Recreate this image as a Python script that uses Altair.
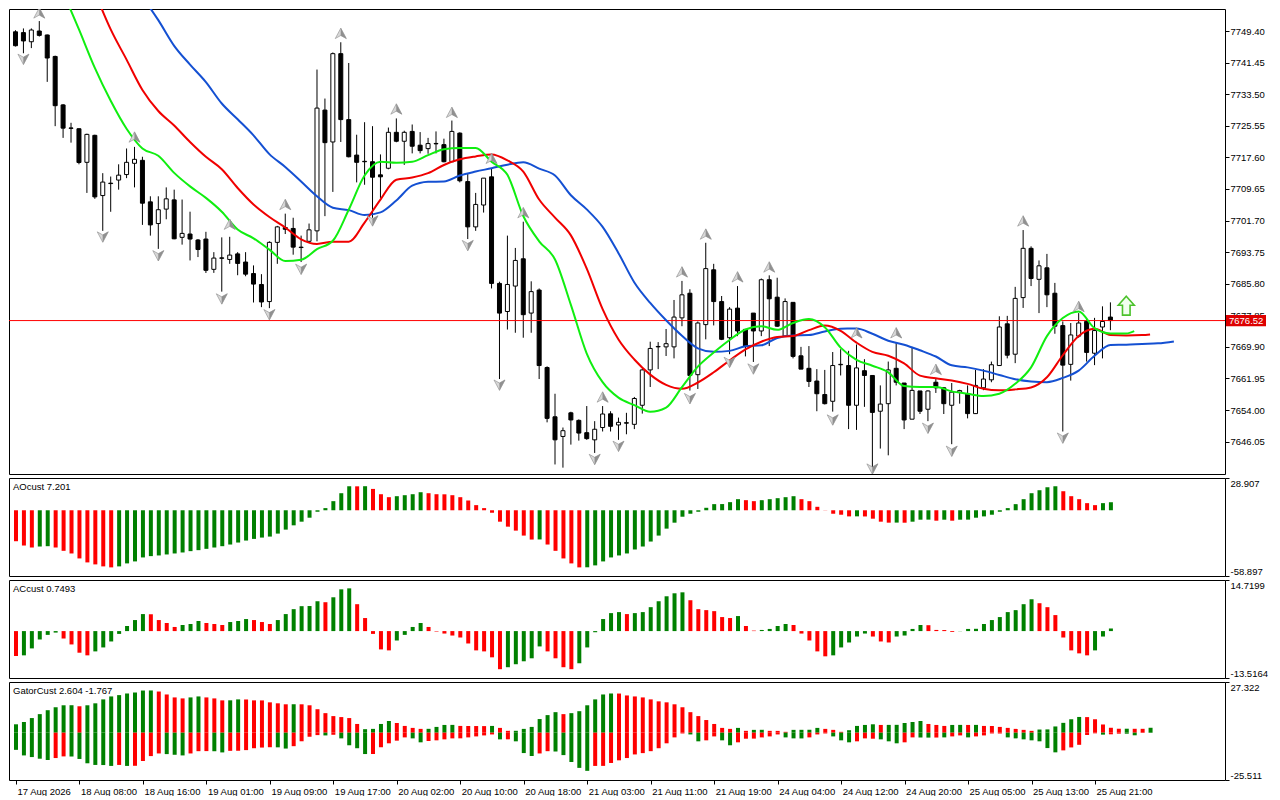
import json
import altair as alt
import pandas as pd

# ---------------- data ----------------
OPEN = [7749.2, 7749.0, 7746.7, 7749.4, 7748.4, 7743.0, 7730.8, 7725.0, 7724.8, 7716.35,
        7723.14, 7707.98, 7711.1, 7711.88, 7713.27, 7716.1, 7716.85, 7706.4, 7700.94, 7704.57,
        7706.9, 7697.47, 7698.3, 7696.8, 7697.04, 7689.41, 7692.3, 7691.9, 7693.3, 7691.25,
        7688.35, 7685.6, 7681.3, 7696.2, 7699.95, 7699.7, 7695.0, 7696.47, 7699.1, 7729.5,
        7721.47, 7743.7, 7727.1, 7718.17, 7716.6, 7716.5, 7713.2, 7714.86, 7723.9, 7721.65,
        7724.13, 7720.66, 7719.8, 7721.1, 7720.8, 7716.5, 7723.7, 7711.5, 7700.1, 7705.6,
        7712.7, 7685.87, 7678.8, 7685.2, 7692.07, 7678.4, 7684.2, 7664.7, 7652.3, 7647.35,
        7653.3, 7651.4, 7648.3, 7646.5, 7649.6, 7653.05, 7650.25, 7650.8, 7650.4, 7655.2,
        7664.1, 7669.9, 7669.9, 7669.9, 7677.2, 7683.4, 7662.9, 7675.5, 7689.3, 7681.3,
        7672.2, 7679.65, 7674.3, 7678.4, 7673.9, 7686.8, 7682.4, 7672.6, 7681.1, 7667.65,
        7664.5, 7661.3, 7657.9, 7656.2, 7665.4, 7665.2, 7655.2, 7663.9, 7662.7, 7653.7,
        7655.6, 7664.5, 7660.8, 7651.7, 7658.8, 7654.2, 7661.0, 7659.6, 7655.2, 7658.5,
        7658.1, 7653.1, 7659.6, 7661.6, 7665.2, 7675.7, 7668.05, 7682.3, 7694.7, 7686.9,
        7689.8, 7683.4, 7675.25, 7665.5, 7672.6, 7676.3, 7668.3, 7674.9, 7677.4]
HIGH = [7749.6, 7750.05, 7750.05, 7751.9, 7748.5, 7743.2, 7731.0, 7726.3, 7724.9, 7723.56,
        7723.3, 7713.62, 7712.77, 7715.85, 7719.83, 7720.23, 7717.75, 7707.8, 7707.8, 7710.04,
        7709.47, 7706.98, 7703.92, 7697.04, 7698.86, 7693.74, 7697.46, 7697.6, 7693.74, 7693.74,
        7690.4, 7688.2, 7696.47, 7700.35, 7703.43, 7702.4, 7697.9, 7700.94, 7739.7, 7732.4,
        7744.0, 7746.57, 7741.35, 7723.3, 7726.45, 7725.45, 7718.34, 7725.1, 7727.4, 7724.3,
        7725.87, 7723.96, 7722.5, 7724.13, 7722.3, 7726.86, 7723.9, 7713.6, 7708.65, 7712.4,
        7714.86, 7686.3, 7697.9, 7694.8, 7701.4, 7686.4, 7684.6, 7665.0, 7658.1, 7649.6,
        7653.57, 7651.65, 7655.0, 7651.2, 7655.0, 7653.7, 7652.1, 7653.3, 7657.3, 7664.3,
        7671.2, 7671.1, 7674.4, 7681.7, 7686.5, 7684.4, 7676.3, 7696.1, 7690.8, 7682.7,
        7679.9, 7685.2, 7674.3, 7678.4, 7687.1, 7687.9, 7687.3, 7682.1, 7681.1, 7669.9,
        7670.1, 7664.3, 7664.1, 7668.6, 7669.3, 7668.9, 7670.5, 7666.8, 7662.7, 7660.2,
        7666.2, 7671.1, 7660.8, 7669.9, 7658.8, 7658.95, 7661.8, 7659.8, 7660.8, 7659.1,
        7660.2, 7664.1, 7664.3, 7666.2, 7677.6, 7677.7, 7685.0, 7699.3, 7695.2, 7691.65,
        7693.3, 7686.0, 7676.3, 7675.9, 7678.4, 7677.2, 7677.2, 7680.1, 7681.1]
LOW = [7745.5, 7743.8, 7745.1, 7748.0, 7736.6, 7725.45, 7722.5, 7721.3, 7715.85, 7708.65,
       7707.16, 7699.1, 7703.9, 7709.47, 7712.37, 7710.04, 7700.6, 7697.9, 7694.56, 7702.01,
       7697.0, 7695.63, 7691.65, 7692.5, 7688.5, 7688.52, 7683.8, 7690.8, 7687.93, 7687.67,
       7681.07, 7679.9, 7679.65, 7690.8, 7698.3, 7693.1, 7691.25, 7696.2, 7696.47, 7702.8,
       7708.9, 7721.47, 7717.6, 7711.3, 7710.7, 7702.4, 7707.4, 7714.6, 7721.4, 7715.7,
       7718.6, 7718.6, 7718.5, 7718.6, 7716.35, 7716.5, 7711.3, 7697.04, 7699.1, 7703.7,
       7684.6, 7661.8, 7674.26, 7673.45, 7672.2, 7673.45, 7661.8, 7650.9, 7640.3, 7639.5,
       7645.3, 7646.3, 7646.5, 7643.2, 7648.6, 7648.6, 7646.5, 7647.9, 7649.2, 7653.1,
       7659.8, 7664.3, 7667.6, 7667.0, 7675.1, 7658.9, 7659.3, 7671.8, 7675.3, 7671.6,
       7668.05, 7672.6, 7667.5, 7666.1, 7672.6, 7670.1, 7674.9, 7672.6, 7667.0, 7664.3,
       7659.8, 7653.7, 7655.4, 7653.6, 7662.7, 7649.2, 7649.0, 7654.8, 7639.6, 7644.3,
       7642.6, 7660.2, 7649.2, 7651.7, 7653.0, 7651.2, 7658.3, 7653.0, 7645.4, 7655.6,
       7651.9, 7653.0, 7659.0, 7661.0, 7665.2, 7667.0, 7665.8, 7679.7, 7685.2, 7678.4,
       7679.9, 7673.2, 7648.6, 7661.4, 7672.2, 7666.2, 7665.3, 7667.0, 7674.1]
CLOSE = [7745.7, 7746.9, 7749.65, 7748.3, 7742.6, 7730.6, 7724.95, 7724.9, 7716.3, 7723.38,
         7707.65, 7711.38, 7711.0, 7713.12, 7716.35, 7717.1, 7706.06, 7700.6, 7704.42, 7707.16,
         7697.1, 7698.46, 7697.04, 7694.4, 7689.17, 7692.25, 7692.2, 7693.0, 7690.9, 7688.2,
         7685.7, 7681.2, 7696.2, 7700.1, 7699.5, 7695.0, 7694.9, 7699.35, 7730.0, 7721.3,
         7743.7, 7727.1, 7717.75, 7716.35, 7716.5, 7712.6, 7712.7, 7723.9, 7721.65, 7723.9,
         7720.4, 7719.3, 7721.07, 7721.0, 7716.5, 7724.13, 7711.7, 7700.1, 7705.75, 7712.37,
         7685.87, 7678.4, 7685.6, 7691.65, 7678.0, 7683.8, 7665.2, 7651.9, 7646.5, 7648.8,
         7651.5, 7648.2, 7646.8, 7649.16, 7653.0, 7649.9, 7650.9, 7650.7, 7656.9, 7664.1,
         7669.5, 7670.0, 7670.7, 7677.4, 7683.0, 7662.7, 7675.9, 7689.6, 7681.3, 7671.8,
         7679.4, 7673.9, 7670.1, 7673.9, 7686.8, 7682.0, 7675.1, 7681.3, 7667.5, 7664.3,
         7661.2, 7658.1, 7655.6, 7665.2, 7665.5, 7655.2, 7664.6, 7662.7, 7653.4, 7655.5,
         7664.1, 7661.0, 7651.5, 7658.95, 7653.7, 7658.8, 7659.6, 7655.6, 7658.5, 7658.9,
         7653.1, 7660.2, 7661.8, 7665.4, 7674.9, 7667.8, 7682.1, 7694.7, 7687.1, 7690.3,
         7683.0, 7675.1, 7665.3, 7672.9, 7675.9, 7668.5, 7674.0, 7676.3, 7676.52]

# Alligator lines (bar index, value)
LIPS_IDX = list(range(6, 141, 2)) + [141]
LIPS = [7759.17, 7749.80, 7740.11, 7731.83, 7724.80, 7719.83, 7717.99, 7713.69, 7710.29, 7707.40,
        7703.92, 7699.45, 7697.22, 7694.38, 7691.50, 7691.82, 7694.48, 7696.62, 7704.42, 7713.02,
        7716.50, 7716.25, 7716.50, 7718.17, 7719.66, 7719.98, 7719.98, 7716.50, 7713.20, 7702.83,
        7696.47, 7691.90, 7680.47, 7668.22, 7661.01, 7657.11, 7655.22, 7653.56, 7654.62, 7659.77,
        7664.91, 7668.46, 7671.62, 7674.26, 7675.10, 7674.18, 7675.92, 7676.91, 7674.85, 7669.71,
        7666.65, 7665.16, 7663.50, 7660.02, 7659.77, 7659.77, 7658.70, 7658.10, 7657.53, 7658.10,
        7660.59, 7664.74, 7672.61, 7677.16, 7678.83, 7674.60, 7673.26, 7673.26, 7673.86]
TEETH_IDX = list(range(10, 143, 2)) + [143]
TEETH = [7759.17, 7749.80, 7742.20, 7734.57, 7729.27, 7725.62, 7721.47, 7717.74, 7714.61, 7709.89,
         7705.74, 7702.59, 7699.95, 7696.97, 7695.80, 7696.37, 7696.37, 7701.19, 7706.98, 7711.95,
         7712.52, 7713.62, 7715.68, 7717.10, 7717.84, 7718.34, 7716.85, 7714.02, 7706.98, 7702.44,
         7697.96, 7689.59, 7679.40, 7671.77, 7666.73, 7662.92, 7660.34, 7659.35, 7660.93, 7663.50,
         7666.48, 7669.28, 7671.20, 7672.37, 7672.61, 7674.11, 7675.25, 7673.93, 7670.95, 7668.63,
         7667.65, 7665.73, 7662.67, 7662.00, 7661.43, 7660.59, 7659.35, 7658.95, 7659.20, 7659.69,
         7662.25, 7667.79, 7672.61, 7674.43, 7672.86, 7672.76, 7672.86, 7673.01]
JAW_IDX = list(range(16, 147, 2))
JAW = [7757.93, 7752.13, 7745.67, 7740.95, 7736.55, 7731.16, 7727.19, 7723.14, 7718.41, 7715.18,
       7711.53, 7707.80, 7704.92, 7704.32, 7703.08, 7703.75, 7706.73, 7710.46, 7711.45, 7711.53,
       7713.02, 7714.02, 7714.86, 7715.76, 7716.35, 7714.76, 7713.02, 7708.05, 7704.50, 7700.10,
       7693.49, 7686.11, 7680.96, 7676.59, 7672.69, 7669.53, 7668.64, 7668.89, 7670.03, 7670.28,
       7672.12, 7672.77, 7672.86, 7673.76, 7674.48, 7674.50, 7673.19, 7671.45, 7670.45, 7669.04,
       7667.47, 7665.26, 7664.74, 7663.92, 7662.83, 7661.76, 7661.18, 7661.01, 7662.08, 7663.92,
       7667.65, 7670.38, 7670.45, 7670.63, 7670.78, 7671.27]

# Fractal marker positions
FRAC_UP_IDX = [3, 15, 27, 34, 41, 48, 55, 60, 64, 74, 84, 87, 91, 95, 106, 111, 116, 127, 134]
FRAC_UP = [7753.95, 7722.71, 7700.77, 7705.74, 7748.81, 7729.77, 7728.93, 7717.35, 7703.68, 7657.28,
           7688.77, 7698.29, 7687.52, 7690.01, 7673.44, 7673.44, 7664.24, 7701.59, 7680.07]
FRAC_DN_IDX = [1, 11, 18, 26, 32, 36, 45, 57, 61, 73, 76, 85, 90, 93, 103, 108, 115, 118, 132]
FRAC_DN = [7742.27, 7697.54, 7692.82, 7681.96, 7677.98, 7689.41, 7701.59, 7695.38, 7660.26, 7641.55,
           7644.86, 7656.86, 7665.98, 7664.32, 7651.49, 7639.14, 7649.41, 7643.62, 7646.92]

SIGNAL_IDX = [140]
SIGNAL = [7680.27]
CURRENT_PRICE = 7676.52

PRICE_TICKS = [7646.05, 7654.00, 7661.95, 7669.90, 7677.85, 7685.80, 7693.75, 7701.70,
               7709.65, 7717.60, 7725.55, 7733.50, 7741.45, 7749.40]

AO = [-27.74, -31.60, -33.37, -32.48, -32.19, -33.37, -36.34, -38.71, -43.16, -46.72,
      -48.50, -50.28, -51.17, -50.28, -47.61, -45.83, -42.27, -41.09, -40.49, -39.60,
      -38.71, -37.82, -36.63, -35.74, -34.56, -33.37, -32.19, -30.70, -28.92, -27.14,
      -25.66, -24.47, -23.58, -20.91, -17.35, -13.50, -10.23, -6.67, -1.33, 1.93,
      8.16, 15.28, 21.51, 21.45, 21.55, 19.13, 14.38, 11.72, 12.61, 13.50,
      14.38, 16.17, 15.28, 14.38, 14.30, 13.50, 11.72, 8.75, 4.60, 1.93,
      -2.22, -10.23, -14.68, -18.24, -22.69, -26.25, -26.15, -30.70, -36.34, -43.16,
      -47.61, -51.17, -51.10, -49.39, -45.83, -42.27, -40.49, -38.71, -35.15, -32.48,
      -28.03, -22.69, -16.46, -11.12, -5.78, -3.11, -1.33, 2.22, 5.49, 5.55,
      7.27, 9.94, 9.05, 8.16, 9.05, 9.94, 10.83, 11.72, 12.61, 9.94,
      8.16, 3.11, -0.15, -3.11, -4.00, -5.49, -5.45, -5.55, -7.56, -10.23,
      -11.12, -11.05, -11.15, -10.23, -8.45, -8.40, -9.34, -8.45, -9.34, -8.45,
      -8.40, -6.67, -5.49, -4.00, -1.33, 1.93, 5.49, 9.94, 15.28, 17.95,
      20.62, 21.51, 17.06, 12.61, 9.94, 6.38, 4.60, 6.38, 7.20]
AO_COL = ("rrrggrrrrrrrr" "gggggggggggggggggggggggggggggg" "rg" "rrr" "gggg"
          "rrrrrrrrrrrrrr" "g" "rrrrr" "gggggggggggggggggggg" "rr" "ggggg" "rrrrrrr"
          "g" "rrrr" "g" "r" "ggg" "r" "g" "r" "ggggggggggggg" "rrrrr" "gg")

AC = [-7.18, -6.99, -4.99, -2.42, -1.09, -0.43, -2.14, -3.85, -6.23, -6.99,
      -5.85, -4.71, -2.99, -0.81, 1.47, 3.18, 4.90, 4.85, 3.18, 2.33,
      1.19, 1.76, 2.04, 2.90, 2.33, 2.04, 1.76, 2.61, 2.90, 3.47,
      3.18, 2.61, 2.04, 3.18, 4.90, 6.32, 7.18, 7.22, 8.60, 8.32,
      9.74, 12.03, 12.31, 7.75, 3.76, -0.81, -5.28, -5.56, -2.71, -1.09,
      1.19, 2.33, 1.19, -0.14, -0.71, -1.28, -1.85, -3.57, -5.56, -5.85,
      -7.56, -10.98, -10.41, -9.55, -8.70, -7.84, -4.42, -5.85, -7.84, -10.41,
      -10.98, -9.27, -4.71, -0.33, 3.47, 5.18, 5.47, 4.90, 5.18, 5.47,
      6.89, 8.60, 10.03, 10.89, 11.17, 8.89, 6.32, 6.04, 5.75, 4.04,
      3.76, 4.33, 1.47, 0.14, 0.33, 0.62, 1.47, 2.04, 1.76, -0.71,
      -2.71, -5.85, -7.27, -6.99, -4.71, -3.28, -1.57, -0.71, -1.57, -2.99,
      -3.28, -1.57, -1.28, 0.62, 1.76, 1.70, 0.33, 0.30, -0.24, -0.05,
      0.62, 0.66, 2.04, 3.18, 4.04, 5.47, 6.04, 7.75, 9.17, 8.03,
      6.89, 4.61, -1.85, -5.56, -6.42, -6.99, -5.56, -1.57, 0.75]
AC_COL = ("r" "ggggg" "rrrr" "ggggggg" "rrrr" "ggg" "rrr" "ggg" "rrr" "gggggg" "r" "ggg"
          "rrrrr" "gggg" "rrrrrrrrrr" "ggggg" "rrrr" "gggggg" "r" "ggggggg" "rrrrrr" "g"
          "rr" "gggg" "rrrrr" "ggggg" "rrr" "gggg" "rrrr" "gggggggggg" "rrrrrrr" "ggg")

GATOR_UP = [4.52, 5.76, 7.88, 10.00, 12.12, 13.71, 14.77, 14.80, 14.24, 14.77,
            15.83, 17.95, 19.54, 20.25, 21.13, 21.66, 22.72, 22.76, 22.19, 20.60,
            19.01, 18.48, 19.01, 19.54, 19.01, 18.48, 17.42, 17.45, 17.95, 17.90,
            17.42, 17.40, 16.36, 15.83, 15.30, 15.33, 15.30, 14.77, 12.65, 10.53,
            8.94, 8.41, 7.88, 4.70, 1.89, 2.05, 4.70, 6.29, 5.23, 3.64,
            2.58, 2.05, 2.08, 3.11, 4.17, 4.20, 3.64, 3.60, 3.58, 3.55,
            3.64, 2.58, 0.99, 1.02, 2.05, 3.11, 7.35, 9.47, 11.06, 10.00,
            10.53, 11.59, 14.77, 17.95, 20.60, 21.13, 21.10, 20.07, 19.54, 19.01,
            17.95, 16.89, 16.36, 15.30, 13.71, 11.06, 8.94, 6.82, 4.70, 2.58,
            2.05, 2.58, 0.99, 1.52, 1.55, 0.99, 0.97, 0.46, 1.52, 1.55,
            1.58, 2.58, 2.05, 1.52, 0.46, 1.34, 3.64, 4.17, 4.52, 4.17,
            4.20, 4.23, 5.23, 5.76, 6.29, 4.70, 4.17, 3.64, 4.17, 4.20,
            4.17, 4.20, 3.64, 3.60, 3.11, 2.58, 2.05, 1.52, 0.99, 1.70,
            1.77, 3.36, 5.30, 7.24, 8.48, 8.40, 7.24, 4.42, 2.65, 2.12,
            2.14, 2.10, 2.08, 2.65]
GATOR_UP_COL = ("gggggggg" "r" "ggggggggg" "rrrr" "gg" "rrr" "gg" "rrrrrr" "g" "rrrrrrrr"
                "gggg" "rrrr" "gggg" "rrrr" "g" "rr" "gggggg" "r" "gggggg" "rrrrrrrrrrrrrrr"
                "g" "r" "gg" "rrr" "gggg" "rrr" "gggg" "r" "ggggg" "rrr" "gg" "r" "g"
                "rrrrrrr" "gggggg" "rrrrr" "g" "rr" "g")
GATOR_DN = [-9.26, -12.26, -13.15, -14.03, -14.74, -13.68, -12.79, -12.85, -14.17, -16.50,
            -17.39, -17.45, -17.92, -17.39, -17.92, -17.85, -15.27, -12.62, -11.20, -11.55,
            -11.91, -12.26, -11.20, -9.97, -9.93, -10.00, -10.64, -9.79, -9.75, -9.40,
            -8.38, -8.02, -7.85, -7.90, -8.56, -7.28, -4.63, -2.19, -1.31, -1.48,
            -1.13, -3.07, -6.79, -8.38, -11.52, -11.50, -7.85, -5.73, -4.31, -2.54,
            -3.07, -5.20, -4.49, -4.13, -3.60, -3.07, -3.05, -2.54, -2.01, -1.48,
            -0.95, -3.60, -3.58, -4.66, -10.99, -12.58, -11.20, -9.97, -10.15, -12.09,
            -15.80, -18.98, -20.57, -17.92, -17.90, -16.33, -14.91, -13.68, -11.73, -11.02,
            -9.97, -8.38, -5.73, -2.54, -0.42, -0.95, -4.66, -4.13, -2.01, -4.13,
            -6.79, -5.20, -3.25, -3.20, -2.54, -2.01, -0.95, -2.54, -3.07, -3.10,
            -2.54, -0.95, -0.42, -2.01, -4.13, -5.20, -4.66, -3.07, -3.25, -3.60,
            -4.66, -5.73, -5.20, -2.54, -2.60, -2.65, -2.62, -2.54, -2.01, -1.48,
            -2.54, -2.01, -1.48, -0.42, -0.45, -2.54, -3.07, -3.60, -4.13, -4.66,
            -8.30, -10.60, -9.54, -7.95, -6.54, -1.24, -0.35, -1.06, -0.88, -0.53,
            -0.55, -1.41, -0.05, -0.05]
GATOR_DN_COL = ("ggggg" "rr" "gggggg" "r" "g" "rrrr" "ggg" "rrr" "gg" "rrrrrr" "gg" "rrrr"
                "g" "r" "gggg" "rrrrr" "gg" "rrrrrrrrr" "g" "r" "ggg" "rr" "ggggg"
                "rrrrrrrrrrrr" "gg" "rr" "gg" "rrrrrr" "ggg" "rrr" "ggg" "rrr" "ggg" "rr"
                "gg" "r" "g" "rr" "g" "rrrr" "ggggggg" "rrrrr" "g" "rr" "gg" "r" "g")

TIME_TICKS = [0, 8, 16, 24, 32, 40, 48, 56, 64, 72, 80, 88, 96, 104, 112, 120, 128, 136]
TIME_LABELS = ["17 Aug 2026", "18 Aug 08:00", "18 Aug 16:00", "19 Aug 01:00", "19 Aug 09:00",
               "19 Aug 17:00", "20 Aug 02:00", "20 Aug 10:00", "20 Aug 18:00", "21 Aug 03:00",
               "21 Aug 11:00", "21 Aug 19:00", "24 Aug 04:00", "24 Aug 12:00", "24 Aug 20:00",
               "25 Aug 05:00", "25 Aug 13:00", "25 Aug 21:00"]

AO_LABEL = "AOcust 7.201"
AC_LABEL = "ACcust 0.7493"
GATOR_LABEL = "GatorCust 2.604 -1.767"

AO_DOMAIN = [-58.897, 28.907]
AC_DOMAIN = [-13.5164, 14.7199]
GATOR_DOMAIN = [-25.511, 27.322]
PRICE_DOMAIN = [7637.90, 7754.94]

assert len(OPEN) == len(HIGH) == len(LOW) == len(CLOSE) == 139
assert len(LIPS) == len(LIPS_IDX) and len(TEETH) == len(TEETH_IDX) and len(JAW) == len(JAW_IDX)
assert len(AO) == len(AO_COL) == 139, (len(AO), len(AO_COL))
assert len(AC) == len(AC_COL) == 139, (len(AC), len(AC_COL))
assert len(GATOR_UP) == len(GATOR_UP_COL) == 144, (len(GATOR_UP), len(GATOR_UP_COL))
assert len(GATOR_DN) == len(GATOR_DN_COL) == 144, (len(GATOR_DN), len(GATOR_DN_COL))

# ---------------- styling ----------------
FONT = "Liberation Sans"
FS = 9.5
W = 1216
H_MAIN = 465
H_SUB = 98
GREEN = "#008000"
RED = "#ff0000"

X_MAIN = alt.X("i:Q", scale=alt.Scale(domain=[-0.1875, 151.8125], nice=False, zero=False), axis=None)
X_SUB = alt.X("i:Q", scale=alt.Scale(domain=[-0.25, 151.75], nice=False, zero=False), axis=None)

ps = alt.Scale(domain=PRICE_DOMAIN, nice=False, zero=False)
main_axis = alt.Axis(orient="right", values=PRICE_TICKS, format=".2f", tickSize=4,
                     labelPadding=1, labelFlush=False, labelOverlap=False, grid=False,
                     domain=False)


def PY(field):
    return alt.Y(field, scale=ps, axis=main_axis, title=None)


cdf = pd.DataFrame({"i": list(range(len(OPEN))), "o": OPEN, "h": HIGH, "l": LOW, "c": CLOSE})

wicks = alt.Chart(cdf).mark_rule(color="black", strokeWidth=1, clip=True).encode(
    x=X_MAIN, y=PY("l:Q"), y2="h:Q")
bodies = alt.Chart(cdf).mark_bar(width=4, stroke="black", strokeWidth=1, clip=True).encode(
    x=X_MAIN, y=PY("o:Q"), y2="c:Q",
    fill=alt.condition("datum.c > datum.o", alt.value("white"), alt.value("black")))

pdf = pd.DataFrame({"p": [CURRENT_PRICE], "t": [f"{CURRENT_PRICE:.2f}"]})
price_line = alt.Chart(pdf).mark_rule(color="#ff0000", strokeWidth=1).encode(y=PY("p:Q"))


def alligator(idx, vals, color):
    return alt.Chart(pd.DataFrame({"i": idx, "v": vals})).mark_line(
        color=color, strokeWidth=2, clip=True, interpolate="monotone").encode(x=X_MAIN, y=PY("v:Q"))


jaw = alligator(JAW_IDX, JAW, "#1450d2")
teeth = alligator(TEETH_IDX, TEETH, "#f00000")
lips = alligator(LIPS_IDX, LIPS, "#10ee10")

UP_SHAPE = "M0,-0.85L0.9,0.85L0,0.35L-0.9,0.85Z"
UP_HALF = "M0,-0.85L0.9,0.85L0,0.35Z"
DN_SHAPE = "M0,0.85L0.9,-0.85L0,-0.35L-0.9,-0.85Z"
DN_HALF = "M0,0.85L0.9,-0.85L0,-0.35Z"


def frac(idx, vals, shape, fill, stroke, sw):
    return alt.Chart(pd.DataFrame({"i": idx, "v": vals})).mark_point(
        shape=shape, size=150, filled=True, fill=fill, stroke=stroke, strokeWidth=sw,
        opacity=1, clip=True).encode(x=X_MAIN, y=PY("v:Q"))


fu1 = frac(FRAC_UP_IDX, FRAC_UP, UP_SHAPE, "#d8d8d8", "#8a8a8a", 0.6)
fu2 = frac(FRAC_UP_IDX, FRAC_UP, UP_HALF, "#909090", "#909090", 0.2)
fd1 = frac(FRAC_DN_IDX, FRAC_DN, DN_SHAPE, "#d8d8d8", "#8a8a8a", 0.6)
fd2 = frac(FRAC_DN_IDX, FRAC_DN, DN_HALF, "#909090", "#909090", 0.2)

ARROW = "M0,-1L0.84,-0.05L0.4,-0.05L0.4,1L-0.4,1L-0.4,-0.05L-0.84,-0.05Z"
signal = alt.Chart(pd.DataFrame({"i": SIGNAL_IDX, "v": SIGNAL})).mark_point(
    shape=ARROW, size=361, filled=True, fill="#f2fff0", stroke="#4cc22c", strokeWidth=1.6,
    opacity=1, clip=True).encode(x=X_MAIN, y=PY("v:Q"))

BOX = "M-1,-0.28L1,-0.28L1,0.28L-1,0.28Z"
price_box = alt.Chart(pdf).mark_point(shape=BOX, size=1600, filled=True, fill="#dd0000",
                                      strokeWidth=0, opacity=1).encode(
    x=alt.value(W + 21), y=PY("p:Q"))
price_txt = alt.Chart(pdf).mark_text(align="left", baseline="middle", font=FONT, fontSize=FS,
                                     color="white").encode(
    x=alt.value(W + 4), y=PY("p:Q"), text="t:N")

main = alt.layer(wicks, bodies, price_line, jaw, teeth, lips, fu1, fu2, fd1, fd2, signal,
                 price_box, price_txt).properties(width=W, height=H_MAIN)

col_scale = alt.Scale(domain=["g", "r"], range=[GREEN, RED])


def sub_axis(dom, dec):
    expr = (f"datum.value < 0 ? '-' + format(-datum.value, '.{dec}f') "
            f": format(datum.value, '.{dec}f')")
    return alt.Axis(orient="right", values=dom, labelExpr=expr, tickSize=4, labelPadding=1,
                    labelFlush=True, labelOverlap=False, grid=False, domain=False)


def hist(vals, cols, dom, dec):
    df = pd.DataFrame({"i": list(range(len(vals))), "v": vals, "c": list(cols)})
    return alt.Chart(df).mark_bar(width=4, clip=True).encode(
        x=X_SUB,
        y=alt.Y("v:Q", scale=alt.Scale(domain=dom, nice=False, zero=False),
                axis=sub_axis(dom, dec), title=None),
        y2=alt.datum(0),
        color=alt.Color("c:N", scale=col_scale, legend=None))


def caption(txt):
    return alt.Chart(pd.DataFrame({"t": [txt]})).mark_text(
        align="left", baseline="top", font=FONT, fontSize=FS, color="black").encode(
        x=alt.value(4), y=alt.value(4), text="t:N")


ao = alt.layer(hist(AO, AO_COL, AO_DOMAIN, 3), caption(AO_LABEL)).properties(width=W, height=H_SUB)
ac = alt.layer(hist(AC, AC_COL, AC_DOMAIN, 4), caption(AC_LABEL)).properties(width=W, height=H_SUB)

label_expr = f"{json.dumps(TIME_LABELS)}[indexof({json.dumps(TIME_TICKS)}, datum.value)]"
x_axis = alt.Axis(values=TIME_TICKS, labelExpr=label_expr, labelAlign="left", labelBaseline="top",
                  labelPadding=2, labelOffset=1, tickSize=4, grid=False, domain=False,
                  labelOverlap=False, labelFlush=False)
X_BOTTOM = alt.X("i:Q", scale=alt.Scale(domain=[-0.25, 151.75], nice=False, zero=False),
                 axis=x_axis, title=None)

g_up = hist(GATOR_UP, GATOR_UP_COL, GATOR_DOMAIN, 3).encode(x=X_BOTTOM)
g_dn = hist(GATOR_DN, GATOR_DN_COL, GATOR_DOMAIN, 3).encode(x=X_BOTTOM)
gator = alt.layer(g_up, g_dn, caption(GATOR_LABEL)).properties(width=W, height=H_SUB)

chart = alt.vconcat(main, ao, ac, gator, spacing=2).properties(
    padding={"left": 0, "top": 0, "right": 0, "bottom": 0}, background="white"
).configure_view(stroke="black", strokeWidth=1).configure_axis(
    labelFont=FONT, labelFontSize=FS, labelColor="black", tickColor="black", tickWidth=1
)

chart.save("out.html", embed_options={"renderer": "svg", "actions": False})
